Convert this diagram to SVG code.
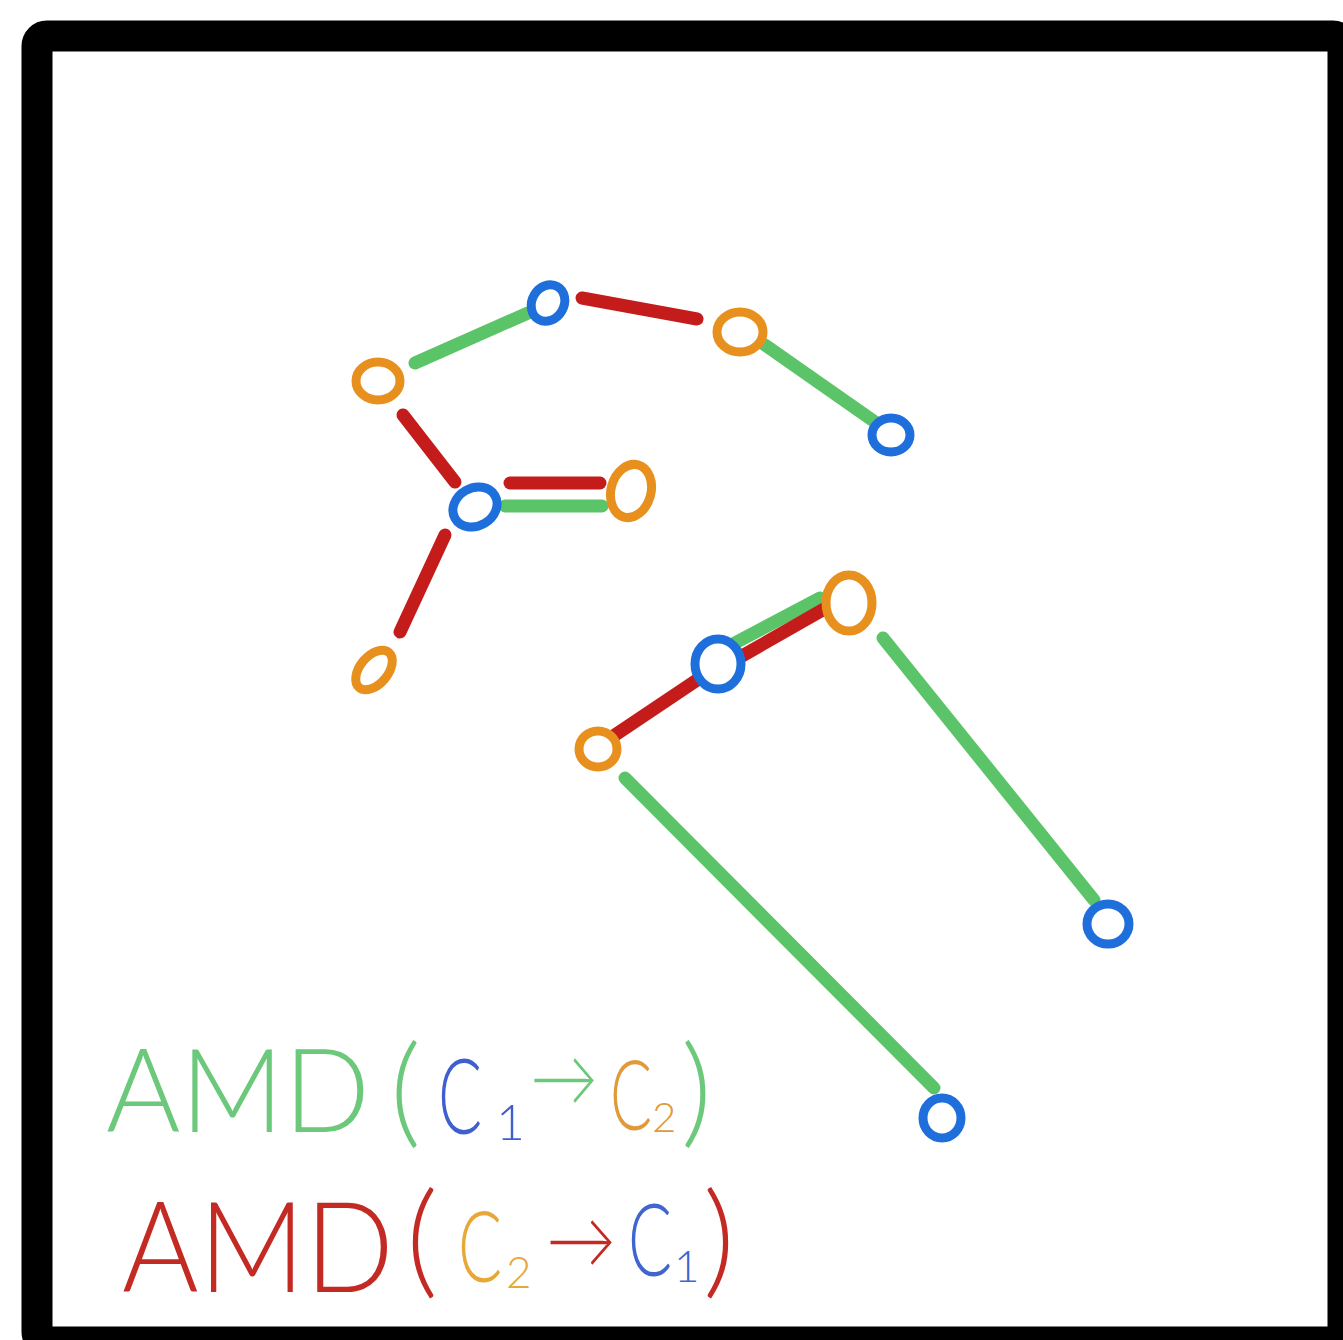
<svg xmlns="http://www.w3.org/2000/svg" width="1343" height="1340" viewBox="0 0 1343 1340">
<style>
.e{fill:none;stroke-width:13;stroke-linecap:round}
.g{stroke:#5cc468}.r{stroke:#c41c1a}
.nb{fill:#fff;stroke:#1e6fdc;stroke-width:9}
.no{fill:#fff;stroke:#e8901e;stroke-width:9}
.t{font-family:Lato,"Open Sans","Liberation Sans",sans-serif;font-weight:300}
</style>
<rect x="0" y="0" width="1343" height="1340" fill="#fff"/>
<rect id="frame" x="37" y="36" width="1306" height="1306" rx="10" fill="#fff" stroke="#000" stroke-width="31"/>
<g id="connectors">
<line class="e g" x1="415" y1="363" x2="528" y2="313"/>
<line class="e r" x1="582" y1="298" x2="697" y2="319"/>
<line class="e g" x1="765" y1="345" x2="875" y2="422"/>
<line class="e r" x1="403" y1="415" x2="455" y2="482"/>
<line class="e r" x1="510" y1="483" x2="600" y2="483"/>
<line class="e g" x1="505" y1="506" x2="602" y2="506"/>
<line class="e r" x1="445" y1="535" x2="400" y2="632"/>
<line class="e g" x1="733" y1="644" x2="820" y2="598"/>
<line class="e r" x1="742" y1="656" x2="826" y2="608"/>
<line class="e r" x1="615" y1="735" x2="700" y2="678"/>
<line class="e g" x1="625" y1="778" x2="934" y2="1088"/>
<line class="e g" x1="883" y1="638" x2="1094" y2="900"/>
</g>
<g id="nA"><ellipse class="nb" cx="548" cy="303" rx="16" ry="19" transform="rotate(30 548 303)"/></g>
<g id="nB"><ellipse class="no" cx="378" cy="381" rx="22" ry="19"/></g>
<g id="nC"><ellipse class="no" cx="740" cy="332" rx="23" ry="20"/></g>
<g id="nD"><ellipse class="nb" cx="891" cy="435" rx="19" ry="17"/></g>
<g id="nE"><ellipse class="nb" cx="475" cy="507" rx="23" ry="19" transform="rotate(-30 475 507)"/></g>
<g id="nF"><ellipse class="no" cx="631" cy="491" rx="20" ry="27" transform="rotate(15 631 491)"/></g>
<g id="nG"><ellipse class="no" cx="374" cy="670" rx="14" ry="23" transform="rotate(40 374 670)"/></g>
<g id="nH"><ellipse class="no" cx="849" cy="603" rx="23" ry="28"/></g>
<g id="nI"><ellipse class="nb" cx="718" cy="664" rx="23" ry="25"/></g>
<g id="nJ"><ellipse class="no" cx="598" cy="749" rx="19" ry="18"/></g>
<g id="nK"><ellipse class="nb" cx="1108" cy="924" rx="21" ry="20"/></g>
<g id="nL"><ellipse class="nb" cx="942" cy="1118" rx="19" ry="20"/></g>
<g id="legend" class="t">
<text x="106" y="1132" font-size="116" fill="#6cc87a" textLength="264" lengthAdjust="spacingAndGlyphs">AMD</text>
<text x="390" y="1132" font-size="120" fill="#6cc87a">(</text>
<text x="438" y="1134" font-size="104" fill="#3f5fd0" textLength="44" lengthAdjust="spacingAndGlyphs">C</text>
<text x="496" y="1140" font-size="50" fill="#3f5fd0">1</text>
<text x="530" y="1106" font-size="80" fill="#6cc87a" textLength="68" lengthAdjust="spacingAndGlyphs">→</text>
<text x="610" y="1130" font-size="96" fill="#e09a3c" textLength="42" lengthAdjust="spacingAndGlyphs">C</text>
<text x="652" y="1132" font-size="42" fill="#e09a3c">2</text>
<text x="681" y="1132" font-size="120" fill="#6cc87a">)</text>
<text x="122" y="1292" font-size="126" fill="#c42a24" textLength="272" lengthAdjust="spacingAndGlyphs">AMD</text>
<text x="406" y="1282" font-size="124" fill="#c42a24">(</text>
<text x="458" y="1282" font-size="98" fill="#e8a838" textLength="44" lengthAdjust="spacingAndGlyphs">C</text>
<text x="506" y="1288" font-size="44" fill="#e8a838">2</text>
<text x="546" y="1268" font-size="80" fill="#c42a24" textLength="70" lengthAdjust="spacingAndGlyphs">→</text>
<text x="628" y="1276" font-size="100" fill="#3f66d0" textLength="44" lengthAdjust="spacingAndGlyphs">C</text>
<text x="674" y="1282" font-size="44" fill="#3f66d0">1</text>
<text x="703" y="1282" font-size="124" fill="#c42a24">)</text>
</g>
</svg>
